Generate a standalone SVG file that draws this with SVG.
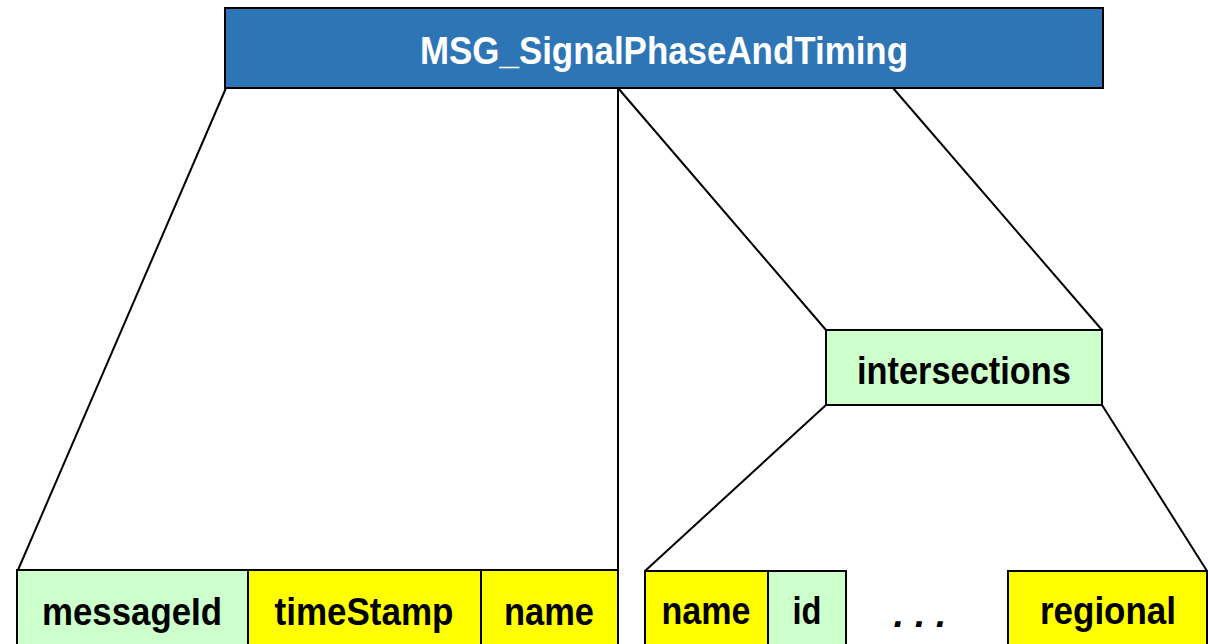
<svg xmlns="http://www.w3.org/2000/svg" width="1208" height="644" viewBox="0 0 1208 644">
<style>
.box{stroke:#000;stroke-width:2}
.green{fill:#CCFFCC}
.yellow{fill:#FFFF00}
.lbl{font-family:"Liberation Sans",Arial,sans-serif;font-weight:bold;font-size:38px;fill:#000;text-anchor:middle}
.conn{stroke:#000;stroke-width:2;fill:none}
</style>
<rect width="1208" height="644" fill="#fff"/>
<g id="connectors">
<line class="conn" x1="226" y1="88" x2="18" y2="570"/>
<line class="conn" x1="618" y1="88" x2="618" y2="570"/>
<line class="conn" x1="618" y1="88" x2="826" y2="330"/>
<line class="conn" x1="893" y1="88" x2="1102" y2="330"/>
<line class="conn" x1="826" y1="405" x2="645" y2="571"/>
<line class="conn" x1="1102" y1="405" x2="1207" y2="571"/>
</g>
<g id="msg">
<rect class="box" x="225" y="8" width="878" height="80" fill="#2E75B6"/>
<text class="lbl" x="664" y="64" font-size="39" style="fill:#fff;font-size:39px" textLength="488" lengthAdjust="spacingAndGlyphs">MSG_SignalPhaseAndTiming</text>
</g>
<g id="intersections">
<rect class="box green" x="826" y="330" width="276" height="75"/>
<text class="lbl" x="964" y="384" textLength="214" lengthAdjust="spacingAndGlyphs">intersections</text>
</g>
<g id="messageId">
<rect class="box green" x="17" y="570" width="231" height="80"/>
<text class="lbl" x="132" y="625" textLength="180" lengthAdjust="spacingAndGlyphs">messageId</text>
</g>
<g id="timeStamp">
<rect class="box yellow" x="248" y="570" width="233" height="80"/>
<text class="lbl" x="364" y="625" textLength="179" lengthAdjust="spacingAndGlyphs">timeStamp</text>
</g>
<g id="name1">
<rect class="box yellow" x="481" y="570" width="137" height="80"/>
<text class="lbl" x="549" y="625" textLength="90" lengthAdjust="spacingAndGlyphs">name</text>
</g>
<g id="name2">
<rect class="box yellow" x="645" y="571" width="123" height="80"/>
<text class="lbl" x="706" y="624" textLength="89" lengthAdjust="spacingAndGlyphs">name</text>
</g>
<g id="id">
<rect class="box green" x="768" y="571" width="78" height="80"/>
<text class="lbl" x="807" y="624" textLength="29" lengthAdjust="spacingAndGlyphs">id</text>
</g>
<g id="dots">
<text class="lbl" x="920" y="627" style="font-style:italic">. . .</text>
</g>
<g id="regional">
<rect class="box yellow" x="1008" y="571" width="199" height="80"/>
<text class="lbl" x="1108" y="624" textLength="136" lengthAdjust="spacingAndGlyphs">regional</text>
</g>
</svg>
